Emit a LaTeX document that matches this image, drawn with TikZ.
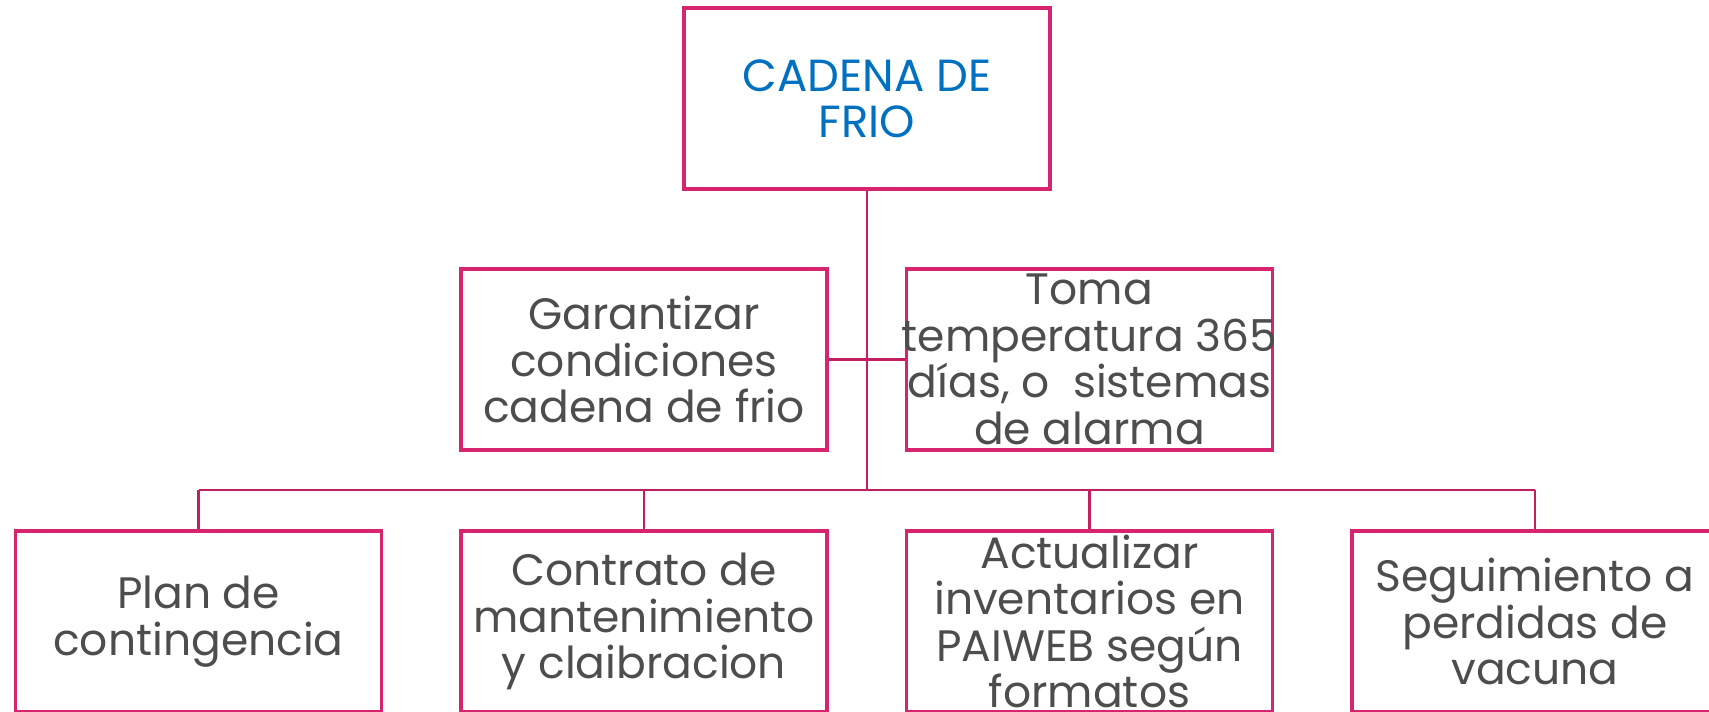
\documentclass[tikz,border=0pt]{standalone}
\usepackage{fontspec}
\setmainfont{Poppins}
\definecolor{boxpink}{RGB}{214,36,110}
\definecolor{linepink}{RGB}{194,30,98}
\definecolor{txtgrey}{RGB}{77,77,77}
\definecolor{titleblue}{RGB}{0,112,192}

\begin{document}
\begin{tikzpicture}[x=1pt, y=-1pt,
		box/.style={draw=boxpink, line width=3.3pt, minimum width=366pt, minimum height=181pt},
		boxtext/.style={text=txtgrey, align=center, inner sep=0pt, font=\fontsize{44}{46.5}\selectfont},
		link/.style={draw=linepink, line width=2.5pt}]
		\useasboundingbox (0,0) rectangle (1709,712);
		
		%the root of the chart
		\node[box] (cadena) at (867,98.5) {};
		\node[boxtext, text=titleblue, font=\fontsize{45}{46}\selectfont] (cadena-txt) at (cadena) {CADENA DE\\FRIO};
		
		%second row, both hanging off the trunk
		\node[box] (garant) at (644,359.5) {};
		\node[boxtext] (garant-txt) at (garant) {Garantizar\\condiciones\\cadena de frio};
		\node[box] (toma) at (1089.5,359.5) {};
		\node[boxtext] (toma-txt) at (toma) {Toma\\temperatura 365\\días, o\ \ sistemas\\de alarma};
		
		%bottom row, cut off by the page
		\node[box] (plan) at (198.5,621.5) {};
		\node[boxtext] (plan-txt) at (plan) {Plan de\\contingencia};
		\node[box] (contrato) at (644,621.5) {};
		\node[boxtext] (contrato-txt) at (contrato) {Contrato de\\mantenimiento\\y claibracion};
		\node[box] (actual) at (1089.5,621.5) {};
		\node[boxtext] (actual-txt) at (actual) {Actualizar\\inventarios en\\PAIWEB según\\formatos};
		\node[box] (seguim) at (1535,621.5) {};
		\node[boxtext] (seguim-txt) at (seguim) {Seguimiento a\\perdidas de\\vacuna};
		
		%trunk and bus
		\coordinate (bus) at (867,490);
		\draw[link] (cadena.south) -- (bus);
		\draw[link] (garant.east) -- (toma.west);
		\draw[link] (plan.north |- bus) -- (seguim.north |- bus);
		\foreach \n in {plan,contrato,actual,seguim}
			\draw[link] (\n.north) -- (\n.north |- bus);
	\end{tikzpicture}
\end{document}
